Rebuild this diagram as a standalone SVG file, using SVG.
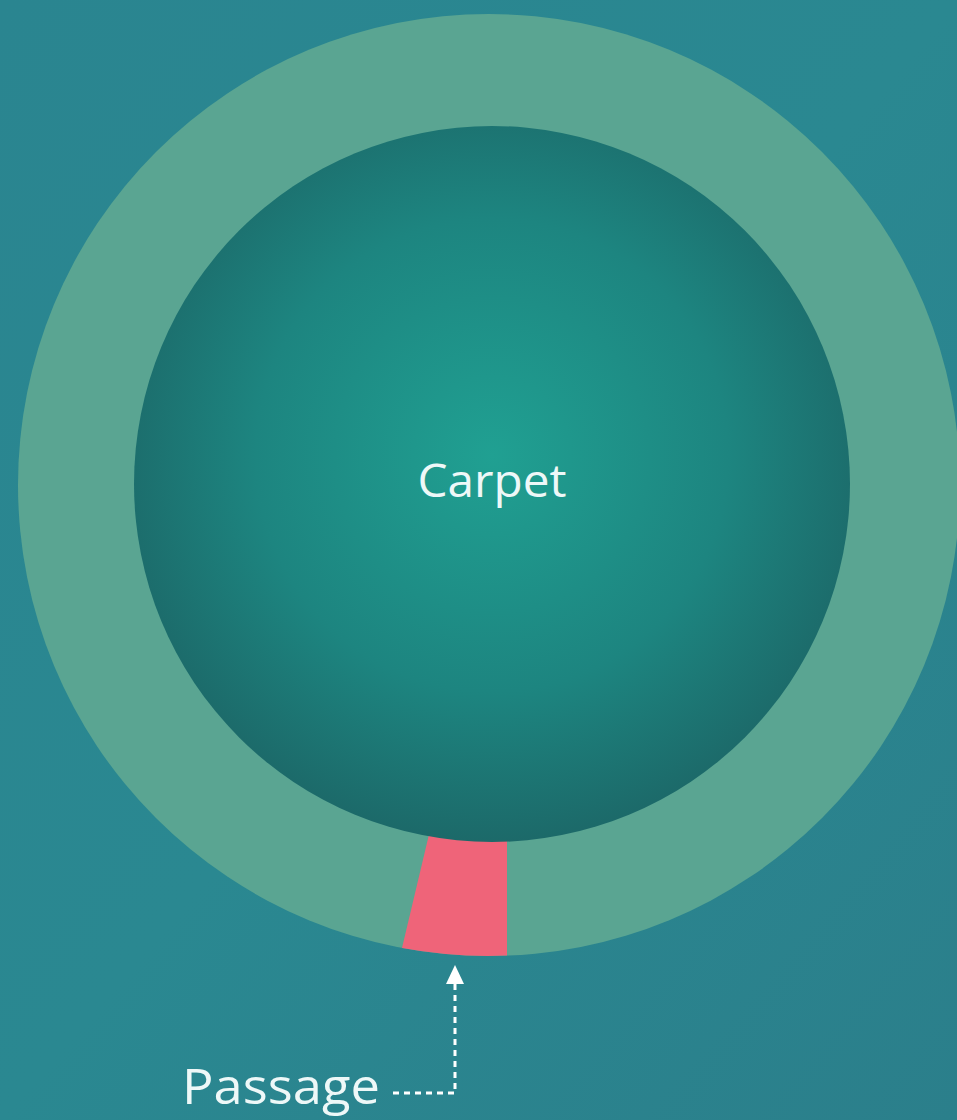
<svg xmlns="http://www.w3.org/2000/svg" width="957" height="1120" viewBox="0 0 957 1120">
  <defs>
    <linearGradient id="bg" x1="0" y1="0" x2="1" y2="1">
      <stop offset="0" stop-color="#2a8590"/>
      <stop offset="0.5" stop-color="#2a8891"/>
      <stop offset="1" stop-color="#2b7f8b"/>
    </linearGradient>
    <radialGradient id="carpet" cx="0.5" cy="0.46" r="0.55">
      <stop offset="0" stop-color="#20a092"/>
      <stop offset="0.6" stop-color="#1d8580"/>
      <stop offset="1" stop-color="#1c6868"/>
    </radialGradient>
    <style>
      .lbl { font-family: "Open Sans", "Noto Sans", sans-serif; fill: #eef8f8; }
      .dash { stroke: #ffffff; stroke-width: 3; stroke-dasharray: 6 5; fill: none; }
    </style>
  </defs>
  <rect width="957" height="1120" fill="url(#bg)"/>
  <g id="ring">
    <circle cx="489" cy="485" r="471" fill="#5aa592"/>
  </g>
  <g id="passage">
    <path d="M 431 826 L 402 948 A 471 471 0 0 0 507 955.5 L 507 826 Z" fill="#ef6479"/>
  </g>
  <g id="carpet-node">
    <circle cx="492" cy="484" r="358" fill="url(#carpet)"/>
    <text class="lbl" x="492" y="497" font-size="46" text-anchor="middle" textLength="149" lengthAdjust="spacingAndGlyphs">Carpet</text>
  </g>
  <g id="connectors">
    <path class="dash" d="M 393 1093 L 455 1093 L 455 983"/>
    <polygon points="455,965 446,984 464,984" fill="#ffffff"/>
  </g>
  <g id="passage-label">
    <text class="lbl" x="182" y="1104" font-size="50" textLength="198" lengthAdjust="spacingAndGlyphs">Passage</text>
  </g>
</svg>
